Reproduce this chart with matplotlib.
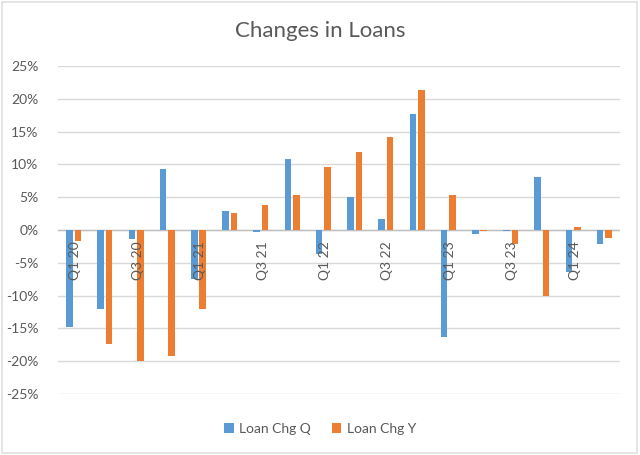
import matplotlib
matplotlib.use("Agg")
import matplotlib.pyplot as plt
import numpy as np
from matplotlib.patches import Rectangle

# data (percent)
quarters = ["Q1 20", "Q2 20", "Q3 20", "Q4 20", "Q1 21", "Q2 21", "Q3 21", "Q4 21",
            "Q1 22", "Q2 22", "Q3 22", "Q4 22", "Q1 23", "Q2 23", "Q3 23", "Q4 23",
            "Q1 24", "Q2 24"]
loan_chg_q = [-14.8, -12.0, -1.4, 9.3, -7.4, 2.85, -0.25, 10.8, -3.6, 5.1, 1.7, 17.7,
              -16.3, -0.6, -0.2, 8.1, -6.4, -2.2]
loan_chg_y = [-1.7, -17.4, -19.9, -19.2, -12.1, 2.6, 3.8, 5.3, 9.6, 11.9, 14.2, 21.3,
              5.3, -0.1, -2.2, -10.1, 0.5, -1.2]
yticks = [-25, -20, -15, -10, -5, 0, 5, 10, 15, 20, 25]

blue = "#5B9BD5"
orange = "#ED7D31"
text_col = "#595959"
plt.rcParams["font.family"] = ["Lato", "DejaVu Sans"]

fig = plt.figure(figsize=(6.4, 4.55), dpi=100)
ax = fig.add_axes([58 / 640, 1 - 394 / 455, 562 / 640, 328 / 455])

# chart border
fig.patches.append(Rectangle((2 / 640, 2 / 455), 635 / 640, 451 / 455, transform=fig.transFigure,
                             fill=False, edgecolor="#E0E0E0", linewidth=1.2))

x = np.arange(len(quarters))
w = 0.21
ax.bar(x - 0.135, loan_chg_q, w, color=blue, label="Loan Chg Q", zorder=3)
ax.bar(x + 0.135, loan_chg_y, w, color=orange, label="Loan Chg Y", zorder=3)

ax.set_xlim(-0.5, len(quarters) - 0.5)
ax.set_ylim(-25, 25)
ax.set_yticks(yticks)
ax.set_yticklabels([f"{v}%" for v in yticks], color=text_col, fontsize=10)
ax.tick_params(axis="y", length=0, pad=14)
ax.set_xticks([])
ax.grid(axis="y", color="#D9D9D9", linewidth=1, zorder=0)
ax.axhline(0, color="#BFBFBF", linewidth=1, zorder=2)
for s in ax.spines.values():
    s.set_visible(False)

# category labels next to the zero line, every other quarter
for i in range(0, len(quarters), 2):
    ax.annotate(quarters[i], (x[i] + 0.05, 0), xytext=(0, -8), textcoords="offset points",
                rotation=90, ha="center", va="top", fontsize=10, color=text_col, zorder=4)

fig.suptitle("Changes in Loans", y=1 - 31 / 455, va="center", fontsize=16, color=text_col)
fig.legend(loc="center", bbox_to_anchor=(0.5, 1 - 429 / 455), ncol=2, frameon=False,
           handlelength=0.7, handleheight=0.7, handletextpad=0.4, columnspacing=1.5,
           fontsize=10, labelcolor=text_col)

fig.savefig("out.png", dpi=100)
